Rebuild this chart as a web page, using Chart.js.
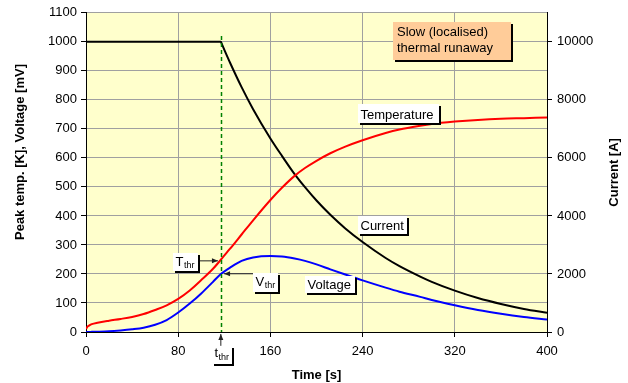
<!DOCTYPE html>
<html><head><meta charset="utf-8">
<script src="https://cdn.jsdelivr.net/npm/chart.js@4/dist/chart.umd.min.js"></script>
<style>html,body{margin:0;padding:0;background:#fff}#wrap{width:628px;height:383px;position:relative}</style>
</head><body><div id="wrap"><canvas id="c" width="628" height="383"></canvas></div>
<script>
// ---- data ----
const times       = [0,1,3,5,10,20,30,40,50,60,70,80,90,100,110,117,118,125,135,145,160,170,181,190,200,212,225,240,260,272,290,300,320,340,360,380,400];
const temperature = [10,17,23,27,32,39,45,52,62,76,92,114,143,179,217,249,254,287,336,385,455,497,538,565,590,616,639,661,686,698,711,717,725,731,735,737,739];
const voltage     = [0,0,0,0.5,1,2.5,5.5,9.5,15,25,41,67,98,133,172,200,203,222,245,257,262,260,253,245,233,216,198,178,153,139,121,110,92,76,63,52,43];
const current     = [10000,10000,10000,10000,10000,10000,10000,10000,10000,10000,10000,10000,10000,10000,10000,10000,9910,9280,8440,7680,6670,6070,5440,4990,4530,4040,3570,3100,2550,2270,1910,1730,1425,1170,965,795,660];
const xTicks      = [0,80,160,240,320,400];
const leftTicks   = [0,100,200,300,400,500,600,700,800,900,1000,1100];
const rightTicks  = [0,2000,4000,6000,8000,10000];
const tThreshold  = 117;

const FONT = '"Liberation Sans", Arial, sans-serif';
const pts = (arr) => times.map((t, i) => ({x: t, y: arr[i]}));

const annotations = {
  id: 'annotations',
  beforeDraw(chart) {
    const {ctx, chartArea: a} = chart;
    ctx.save();
    ctx.fillStyle = '#FFFFCC';
    ctx.fillRect(a.left, a.top, a.right - a.left, a.bottom - a.top);
    ctx.restore();
  },
  afterDatasetsDraw(chart) {
    const {ctx} = chart;
    const xs = chart.scales.x, ys = chart.scales.y;
    const px = v => xs.getPixelForValue(v), py = v => ys.getPixelForValue(v);

    // threshold dashed line
    ctx.save();
    ctx.strokeStyle = '#008000';
    ctx.lineWidth = 1.5;
    ctx.setLineDash([4, 3]);
    ctx.beginPath();
    ctx.moveTo(Math.round(px(tThreshold)) + 0.5, py(1020));
    ctx.lineTo(Math.round(px(tThreshold)) + 0.5, py(0));
    ctx.stroke();
    ctx.restore();

    function arrow(x1, y1, x2, y2) {
      const X1 = px(x1), Y1 = py(y1), X2 = px(x2), Y2 = py(y2);
      const ang = Math.atan2(Y2 - Y1, X2 - X1);
      ctx.save();
      ctx.strokeStyle = '#222'; ctx.fillStyle = '#222'; ctx.lineWidth = 1;
      ctx.beginPath(); ctx.moveTo(X1, Y1); ctx.lineTo(X2, Y2); ctx.stroke();
      ctx.beginPath();
      ctx.moveTo(X2, Y2);
      ctx.lineTo(X2 - 6 * Math.cos(ang) + 2.5 * Math.sin(ang), Y2 - 6 * Math.sin(ang) - 2.5 * Math.cos(ang));
      ctx.lineTo(X2 - 6 * Math.cos(ang) - 2.5 * Math.sin(ang), Y2 - 6 * Math.sin(ang) + 2.5 * Math.cos(ang));
      ctx.closePath(); ctx.fill();
      ctx.restore();
    }
    function label(t, v, w, h, base, text, sub, fill) {
      const X = Math.round(px(t)), Y = Math.round(py(v));
      ctx.save();
      ctx.fillStyle = '#000';
      ctx.fillRect(X + 2, Y + 2, w, h);
      ctx.fillStyle = fill || '#fff';
      ctx.fillRect(X, Y, w, h);
      ctx.fillStyle = '#000';
      ctx.textBaseline = 'alphabetic';
      ctx.textAlign = 'left';
      ctx.font = '13px ' + FONT;
      ctx.fillText(text, X + 2.5, Y + base);
      if (sub) {
        const tw = ctx.measureText(text).width;
        ctx.font = '9px ' + FONT;
        ctx.fillText(sub, X + 2.5 + tw + 0.5, Y + base + 2.7);
      }
      ctx.restore();
    }

    arrow(97.6, 245.2, 114.5, 245.2);
    arrow(145, 200.7, 119.8, 200.7);
    arrow(tThreshold, -47.7, tThreshold, -6.8);

    label(236.0, 786.7, 81, 19, 14.5, 'Temperature');
    label(236.0, 398.4, 49, 18, 13.5, 'Current');
    label(190.0, 194.1, 50, 17, 12.5, 'Voltage');
    label(144.9, 204.3, 25, 19, 12.5, 'V', 'thr');
    label(75.5, 272.4, 25, 18, 12.5, 'T', 'thr');
    label(109.3, -47.7, 20, 18, 11, 't', 'thr');

    // note box
    const X = Math.round(px(266.4)), Y = Math.round(py(1069.3));
    ctx.save();
    ctx.fillStyle = '#000'; ctx.fillRect(X + 2, Y + 2, 118, 38);
    ctx.fillStyle = '#FFCC99'; ctx.fillRect(X, Y, 118, 38);
    ctx.fillStyle = '#000'; ctx.font = '13px ' + FONT; ctx.textBaseline = 'alphabetic';
    ctx.fillText('Slow (localised)', X + 4, Y + 14);
    ctx.fillText('thermal runaway', X + 4, Y + 29.5);
    ctx.restore();
  },
  afterDraw(chart) {
    const {ctx, chartArea: a} = chart;
    ctx.save();
    ctx.fillStyle = '#000';
    ctx.font = 'bold 13px ' + FONT;
    ctx.textAlign = 'center';
    ctx.textBaseline = 'middle';
    ctx.translate(20, 152); ctx.rotate(-Math.PI / 2);
    ctx.fillText('Peak temp. [K], Voltage [mV]', 0, 0);
    ctx.restore();
    ctx.save();
    ctx.fillStyle = '#000';
    ctx.font = 'bold 13px ' + FONT;
    ctx.textAlign = 'center';
    ctx.textBaseline = 'middle';
    ctx.translate(614, (a.top + a.bottom) / 2); ctx.rotate(-Math.PI / 2);
    ctx.fillText('Current [A]', 0, 0);
    ctx.restore();
  }
};

const tickFont = {family: FONT, size: 13};
new Chart(document.getElementById('c'), {
  type: 'line',
  data: {
    datasets: [
      {label: 'Temperature', data: pts(temperature), yAxisID: 'y', borderColor: '#FF0000', borderWidth: 2, pointRadius: 0, cubicInterpolationMode: 'monotone', fill: false},
      {label: 'Voltage', data: pts(voltage), yAxisID: 'y', borderColor: '#0000FF', borderWidth: 2, pointRadius: 0, cubicInterpolationMode: 'monotone', fill: false},
      {label: 'Current', data: pts(current), yAxisID: 'y2', borderColor: '#000000', borderWidth: 2, pointRadius: 0, cubicInterpolationMode: 'monotone', fill: false}
    ]
  },
  options: {
    responsive: false,
    animation: false,
    events: [],
    layout: {padding: {top: 9, left: 0, right: 0, bottom: 0}},
    plugins: {legend: {display: false}, tooltip: {enabled: false}},
    scales: {
      x: {
        type: 'linear', min: 0, max: 400,
        afterBuildTicks: s => { s.ticks = xTicks.map(v => ({value: v})); },
        afterFit: s => { s.height = 51; },
        ticks: {font: tickFont, color: '#000', padding: 7, maxRotation: 0, autoSkip: false, callback: v => String(v)},
        grid: {color: '#A0A0A0', tickColor: '#000', tickLength: 5, lineWidth: 1},
        border: {color: '#000', width: 1},
        title: {display: true, text: 'Time [s]', color: '#000', font: {family: FONT, size: 13, weight: 'bold'}, padding: {top: 0, bottom: 0}}
      },
      y: {
        position: 'left', min: 0, max: 1100,
        afterBuildTicks: s => { s.ticks = leftTicks.map(v => ({value: v})); },
        afterFit: s => { s.width = 86; },
        ticks: {font: tickFont, color: '#000', padding: 4, callback: v => String(v)},
        grid: {color: '#A0A0A0', tickColor: '#000', tickLength: 5, lineWidth: 1},
        border: {color: '#000', width: 1}
      },
      y2: {
        position: 'right', min: 0, max: 11000,
        afterBuildTicks: s => { s.ticks = rightTicks.map(v => ({value: v})); },
        afterFit: s => { s.width = 81; },
        ticks: {font: tickFont, color: '#000', padding: 5, callback: v => String(v)},
        grid: {drawOnChartArea: false, tickColor: '#000', tickLength: 5},
        border: {color: '#000', width: 1}
      }
    }
  },
  plugins: [annotations]
});
</script>
</body></html>
